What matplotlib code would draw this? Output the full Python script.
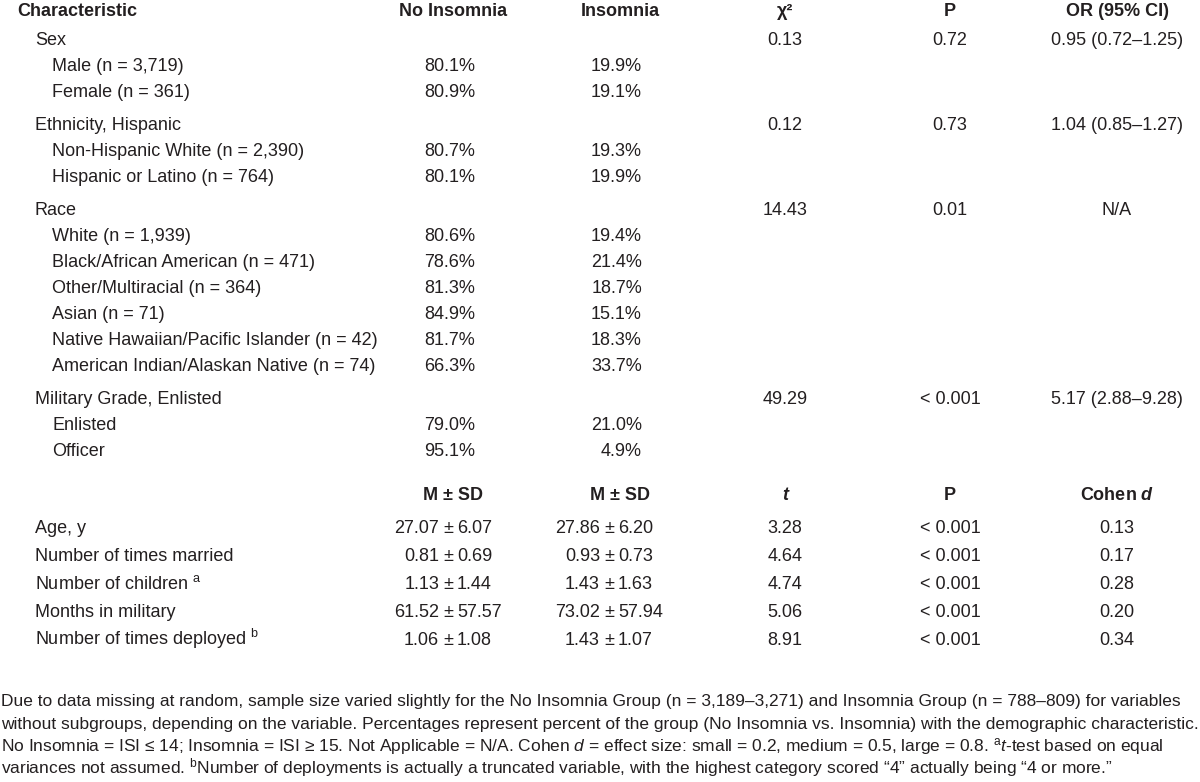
import matplotlib.pyplot as plt

plt.switch_backend('Agg')

FONT = 'Liberation Sans'
plt.rcParams['font.family'] = [FONT, 'DejaVu Sans']
plt.rcParams['mathtext.fontset'] = 'custom'
plt.rcParams['mathtext.rm'] = FONT
plt.rcParams['mathtext.it'] = FONT + ':italic'
plt.rcParams['mathtext.bf'] = FONT + ':bold'
plt.rcParams['mathtext.bfit'] = FONT + ':italic:bold'

# categorical characteristics
groups = ["Sex", "Ethnicity, Hispanic", "Race", "Military Grade, Enlisted"]
subgroups = [
    ["Male (n = 3,719)", "Female (n = 361)"],
    ["Non-Hispanic White (n = 2,390)", "Hispanic or Latino (n = 764)"],
    ["White (n = 1,939)", "Black/African American (n = 471)", "Other/Multiracial (n = 364)",
     "Asian (n = 71)", "Native Hawaiian/Pacific Islander (n = 42)",
     "American Indian/Alaskan Native (n = 74)"],
    ["Enlisted", "Officer"],
]
no_insomnia_pct = [[80.1, 80.9], [80.7, 80.1], [80.6, 78.6, 81.3, 84.9, 81.7, 66.3], [79.0, 95.1]]
insomnia_pct = [[19.9, 19.1], [19.3, 19.9], [19.4, 21.4, 18.7, 15.1, 18.3, 33.7], [21.0, 4.9]]
group_chi2 = ["0.13", "0.12", "14.43", "49.29"]
group_p = ["0.72", "0.73", "0.01", "< 0.001"]
group_or = ["0.95 (0.72\u20131.25)", "1.04 (0.85\u20131.27)", "N/A", "5.17 (2.88\u20139.28)"]

# continuous characteristics
cont_vars = ["Age, y", "Number of times married", "Number of children $^{\\rm a}$",
             "Months in military", "Number of times deployed $^{\\rm b}$"]
no_ins_mean = [27.07, 0.81, 1.13, 61.52, 1.06]
no_ins_sd = [6.07, 0.69, 1.44, 57.57, 1.08]
ins_mean = [27.86, 0.93, 1.43, 73.02, 1.43]
ins_sd = [6.20, 0.73, 1.63, 57.94, 1.07]
t_vals = [3.28, 4.64, 4.74, 5.06, 8.91]
cont_p = ["< 0.001", "< 0.001", "< 0.001", "< 0.001", "< 0.001"]
cohen_d = [0.13, 0.17, 0.28, 0.20, 0.34]

footnotes = [
    "Due to data missing at random, sample size varied slightly for the No Insomnia Group (n = 3,189\u20133,271) and Insomnia Group (n = 788\u2013809) for variables",
    "without subgroups, depending on the variable. Percentages represent percent of the group (No Insomnia vs. Insomnia) with the demographic characteristic.",
    "No Insomnia = ISI \u2264 14; Insomnia = ISI \u2265 15. Not Applicable = N/A. Cohen $d$ = effect size: small = 0.2, medium = 0.5, large = 0.8. $^{\\rm a}$$t$-test based on equal",
    "variances not assumed. $^{\\rm b}$Number of deployments is actually a truncated variable, with the highest category scored \u201c4\u201d actually being \u201c4 or more.\u201d",
]

TXT = '#231f20'
FS = 13

# column positions (pixels)
X_LABEL, X_GROUP, X_SUB = 17, 35, 52
X_NOINS, X_INS = 453, 620
X_NOINS_R, X_INS_R = 475, 642
X_NOINS_PM, X_INS_PM = 448, 609
X_STAT, X_P, X_OR = 785, 950, 1117

fig = plt.figure(figsize=(12, 7.82), dpi=100)
fig.patch.set_facecolor('white')
ax = fig.add_axes([0, 0, 1, 1])
ax.set_xlim(0, 1200)
ax.set_ylim(782, 0)
ax.axis('off')


def t(x, y, s, ha='left', **kw):
    # y is the visual middle of capital letters; place on the baseline
    kw.setdefault('fontsize', FS)
    half_cap = kw['fontsize'] * 100 / 72 * 0.716 / 2
    return ax.text(x, y + half_cap, s, ha=ha, va='baseline', color=TXT, **kw)


# header
y = 10
t(X_LABEL, y, "Characteristic", fontweight='bold')
t(X_NOINS, y, "No Insomnia", ha='center', fontweight='bold')
t(X_INS, y, "Insomnia", ha='center', fontweight='bold')
t(X_STAT, y, "\u03c7\u00b2", ha='center', fontweight='bold')
t(X_P, y, "P", ha='center', fontweight='bold')
t(X_OR, y, "OR (95% CI)", ha='center', fontweight='bold')

step, gap = 26, 7
y = 39
for gi, g in enumerate(groups):
    t(X_GROUP, y, g)
    t(X_STAT, y, group_chi2[gi], ha='center')
    t(X_P, y, group_p[gi], ha='center')
    t(X_OR, y, group_or[gi], ha='center')
    for si, s in enumerate(subgroups[gi]):
        y += step
        t(X_SUB, y, s)
        t(X_NOINS_R, y, f"{no_insomnia_pct[gi][si]:.1f}%", ha='right')
        t(X_INS_R, y, f"{insomnia_pct[gi][si]:.1f}%", ha='right')
    y += step + gap

# continuous header
y = 494
t(X_NOINS, y, "M \u00b1 SD", ha='center', fontweight='bold')
t(X_INS, y, "M \u00b1 SD", ha='center', fontweight='bold')
t(X_STAT, y, "t", ha='center', fontweight='bold', fontstyle='italic')
t(X_P, y, "P", ha='center', fontweight='bold')
t(X_OR, y, "Cohen $\\mathbfit{d}$", ha='center', fontweight='bold')

y = 527
for i, v in enumerate(cont_vars):
    t(X_GROUP, y, v)
    for xpm, m, sd in [(X_NOINS_PM, no_ins_mean[i], no_ins_sd[i]),
                       (X_INS_PM, ins_mean[i], ins_sd[i])]:
        t(xpm - 9, y, f"{m:.2f}", ha='right')
        t(xpm, y, "\u00b1", ha='center')
        t(xpm + 9, y, f"{sd:.2f}", ha='left')
    t(X_STAT, y, f"{t_vals[i]:.2f}", ha='center')
    t(X_P, y, cont_p[i], ha='center')
    t(X_OR, y, f"{cohen_d[i]:.2f}", ha='center')
    y += 28

# footnotes: size chosen so the widest line fits the figure width
renderer = fig.canvas.get_renderer()
widths = []
for line in footnotes:
    probe = t(1, 700, line, fontsize=10)
    widths.append(probe.get_window_extent(renderer).width)
    probe.remove()
fs_note = 10 * 1196 / max(widths)

y = 700
for line in footnotes:
    t(1, y, line, fontsize=fs_note)
    y += 22.4

fig.savefig('out.png', dpi=100, facecolor='white')
plt.close(fig)
